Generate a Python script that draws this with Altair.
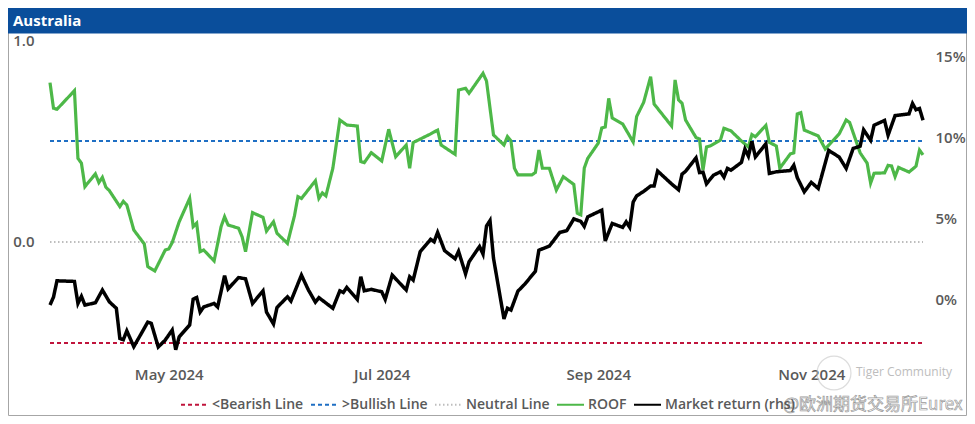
import altair as alt
import pandas as pd

# ---------------- data ----------------
roof_dates = [
    "2024-03-28", "2024-03-29", "2024-03-30", "2024-04-04", "2024-04-05", "2024-04-06", "2024-04-07",
    "2024-04-10", "2024-04-11", "2024-04-12", "2024-04-13", "2024-04-14", "2024-04-17", "2024-04-18",
    "2024-04-19", "2024-04-21", "2024-04-24", "2024-04-25", "2024-04-27", "2024-04-30", "2024-05-01",
    "2024-05-02", "2024-05-04", "2024-05-07", "2024-05-08", "2024-05-09", "2024-05-10", "2024-05-11",
    "2024-05-14", "2024-05-16", "2024-05-17", "2024-05-18", "2024-05-21", "2024-05-22", "2024-05-23",
    "2024-05-25", "2024-05-28", "2024-05-29", "2024-05-31", "2024-06-01", "2024-06-04", "2024-06-06",
    "2024-06-07", "2024-06-08", "2024-06-12", "2024-06-13", "2024-06-14", "2024-06-15", "2024-06-17",
    "2024-06-19", "2024-06-21", "2024-06-24", "2024-06-25", "2024-06-26", "2024-06-28", "2024-07-01",
    "2024-07-03", "2024-07-04", "2024-07-05", "2024-07-08", "2024-07-09", "2024-07-10", "2024-07-15",
    "2024-07-17", "2024-07-18", "2024-07-22", "2024-07-23", "2024-07-25", "2024-07-26", "2024-07-30",
    "2024-07-31", "2024-08-02", "2024-08-05", "2024-08-06", "2024-08-07", "2024-08-08", "2024-08-09",
    "2024-08-13", "2024-08-14", "2024-08-15", "2024-08-16", "2024-08-18", "2024-08-20", "2024-08-22",
    "2024-08-25", "2024-08-26", "2024-08-27", "2024-08-28", "2024-08-29", "2024-09-01", "2024-09-02",
    "2024-09-03", "2024-09-04", "2024-09-05", "2024-09-08", "2024-09-11", "2024-09-12", "2024-09-14",
    "2024-09-16", "2024-09-17", "2024-09-22", "2024-09-23", "2024-09-24", "2024-09-25", "2024-09-26",
    "2024-09-29", "2024-09-30", "2024-10-01", "2024-10-02", "2024-10-03", "2024-10-06", "2024-10-07",
    "2024-10-09", "2024-10-12", "2024-10-14", "2024-10-15", "2024-10-16", "2024-10-19", "2024-10-20",
    "2024-10-22", "2024-10-23", "2024-10-26", "2024-10-27", "2024-10-28", "2024-10-29", "2024-10-30",
    "2024-11-02", "2024-11-03", "2024-11-05", "2024-11-09", "2024-11-11", "2024-11-12", "2024-11-15",
    "2024-11-17", "2024-11-18", "2024-11-19", "2024-11-22", "2024-11-23", "2024-11-24", "2024-11-25",
    "2024-11-26", "2024-11-29", "2024-12-01", "2024-12-02", "2024-12-03",
]
roof_values = [
    0.789, 0.662, 0.657, 0.749, 0.414, 0.390, 0.274,
    0.337, 0.294, 0.320, 0.271, 0.254, 0.175, 0.201,
    0.183, 0.059, -0.010, -0.122, -0.144, -0.040, -0.035,
    -0.003, 0.100, 0.216, 0.076, 0.093, -0.048, -0.040,
    -0.094, 0.076, 0.125, 0.084, 0.068, 0.026, -0.048,
    0.145, 0.122, 0.054, 0.100, 0.043, -0.007, 0.129,
    0.224, 0.215, 0.303, 0.216, 0.243, 0.228, 0.365,
    0.604, 0.579, 0.574, 0.398, 0.393, 0.442, 0.401,
    0.558, 0.489, 0.422, 0.480, 0.365, 0.492, 0.535,
    0.554, 0.480, 0.434, 0.752, 0.761, 0.736, 0.835,
    0.797, 0.530, 0.480, 0.522, 0.500, 0.365, 0.332,
    0.332, 0.344, 0.455, 0.365, 0.365, 0.257, 0.323,
    0.285, 0.142, 0.134, 0.366, 0.414, 0.489, 0.564,
    0.569, 0.711, 0.614, 0.584, 0.495, 0.621, 0.691,
    0.818, 0.683, 0.574, 0.802, 0.703, 0.687, 0.604,
    0.517, 0.510, 0.356, 0.470, 0.475, 0.505, 0.563,
    0.550, 0.500, 0.470, 0.532, 0.521, 0.577, 0.493,
    0.475, 0.365, 0.436, 0.441, 0.634, 0.640, 0.554,
    0.532, 0.525, 0.460, 0.535, 0.604, 0.591, 0.441,
    0.390, 0.291, 0.340, 0.342, 0.379, 0.376, 0.323,
    0.369, 0.346, 0.375, 0.455, 0.431,
]

market_dates = [
    "2024-03-28", "2024-03-29", "2024-03-30", "2024-04-04", "2024-04-05", "2024-04-06", "2024-04-07",
    "2024-04-10", "2024-04-12", "2024-04-14", "2024-04-16", "2024-04-17", "2024-04-18", "2024-04-19",
    "2024-04-21", "2024-04-25", "2024-04-26", "2024-04-28", "2024-04-30", "2024-05-02", "2024-05-03",
    "2024-05-04", "2024-05-07", "2024-05-08", "2024-05-09", "2024-05-10", "2024-05-11", "2024-05-14",
    "2024-05-15", "2024-05-17", "2024-05-18", "2024-05-21", "2024-05-23", "2024-05-25", "2024-05-28",
    "2024-05-29", "2024-05-31", "2024-06-01", "2024-06-04", "2024-06-05", "2024-06-08", "2024-06-10",
    "2024-06-12", "2024-06-13", "2024-06-17", "2024-06-19", "2024-06-20", "2024-06-21", "2024-06-24",
    "2024-06-25", "2024-06-26", "2024-06-28", "2024-07-01", "2024-07-02", "2024-07-04", "2024-07-08",
    "2024-07-09", "2024-07-10", "2024-07-12", "2024-07-15", "2024-07-16", "2024-07-17", "2024-07-19",
    "2024-07-22", "2024-07-23", "2024-07-25", "2024-07-26", "2024-07-29", "2024-07-30", "2024-07-31",
    "2024-08-01", "2024-08-02", "2024-08-05", "2024-08-06", "2024-08-07", "2024-08-09", "2024-08-11",
    "2024-08-14", "2024-08-15", "2024-08-18", "2024-08-21", "2024-08-23", "2024-08-25", "2024-08-27",
    "2024-08-28", "2024-08-29", "2024-09-02", "2024-09-03", "2024-09-05", "2024-09-08", "2024-09-09",
    "2024-09-10", "2024-09-11", "2024-09-12", "2024-09-14", "2024-09-16", "2024-09-17", "2024-09-18",
    "2024-09-22", "2024-09-24", "2024-09-25", "2024-09-26", "2024-09-29", "2024-09-30", "2024-10-01",
    "2024-10-02", "2024-10-04", "2024-10-06", "2024-10-07", "2024-10-08", "2024-10-09", "2024-10-12",
    "2024-10-13", "2024-10-14", "2024-10-15", "2024-10-16", "2024-10-19", "2024-10-20", "2024-10-22",
    "2024-10-26", "2024-10-27", "2024-10-28", "2024-10-30", "2024-11-01", "2024-11-03", "2024-11-06",
    "2024-11-09", "2024-11-11", "2024-11-13", "2024-11-15", "2024-11-16", "2024-11-18", "2024-11-19",
    "2024-11-22", "2024-11-23", "2024-11-25", "2024-11-29", "2024-11-30", "2024-12-01", "2024-12-02",
    "2024-12-03",
]
market_values = [
    -0.37, 0.12, 1.13, 1.09, -0.27, 0.17, -0.37,
    -0.23, 0.56, -0.17, -0.57, -2.43, -2.51, -1.96,
    -2.94, -1.42, -1.50, -2.96, -2.53, -1.91, -3.13,
    -2.33, -1.60, 0.00, 0.10, -0.80, -0.49, -0.27,
    -0.49, 1.45, 0.63, 1.33, 1.25, -0.27, 0.51,
    -0.80, -1.54, -0.52, 0.14, -0.12, 1.48, 0.56,
    -0.19, 0.09, -0.57, 0.51, 0.41, 0.72, -0.02,
    1.38, 0.51, 0.60, 0.45, -0.02, 1.48, 0.56,
    1.38, 1.17, 2.92, 3.69, 3.54, 4.12, 2.99,
    2.49, 2.95, 1.56, 2.30, 3.25, 2.78, 4.51,
    4.85, 2.53, -1.22, -0.57, -0.68, 0.49, 0.93,
    1.72, 3.02, 3.27, 4.12, 4.23, 4.95, 4.80,
    4.49, 5.08, 5.49, 3.59, 4.67, 4.43, 4.77,
    4.43, 5.99, 6.37, 6.65, 6.98, 6.98, 7.91,
    7.11, 6.75, 7.72, 7.89, 8.72, 7.81, 7.84,
    7.12, 7.65, 7.86, 7.53, 8.07, 7.96, 8.44,
    9.26, 8.83, 9.74, 8.78, 9.59, 7.76, 7.86,
    7.94, 8.27, 7.50, 6.62, 7.21, 6.83, 9.18,
    8.77, 8.07, 9.30, 9.44, 10.45, 9.81, 10.74,
    11.03, 10.12, 11.33, 11.44, 12.08, 11.69, 11.77,
    11.05,
]

level_names = ["<Bearish Line", ">Bullish Line", "Neutral Line"]
level_values = [-0.5, 0.5, 0.0]

series_names = level_names + ["ROOF", "Market return (rhs)"]
series_colors = ["#C0143C", "#1F6FC4", "#BDBDBD", "#4DB848", "#000000"]
series_dashes = [[4, 3], [4, 3], [1.5, 2.5], [1, 0], [1, 0]]

left_ticks = [0.0, 1.0]
right_ticks = [0, 5, 10, 15]
month_ticks = [(2024, 5), (2024, 7), (2024, 9), (2024, 11)]

title_text = "Australia"
watermark_1 = "Tiger Community"
watermark_2 = "@欧洲期货交易所Eurex"

# ---------------- tables ----------------
roof_df = pd.DataFrame({"date": pd.to_datetime(roof_dates), "value": roof_values, "series": "ROOF"})
mkt_df = pd.DataFrame({"date": pd.to_datetime(market_dates), "value": market_values,
                       "series": "Market return (rhs)"})
start, end = roof_df["date"].min(), roof_df["date"].max()
lvl_rows = []
for n, v in zip(level_names, level_values):
    lvl_rows.append({"date": start, "value": v, "series": n})
    lvl_rows.append({"date": end, "value": v, "series": n})
lvl_df = pd.DataFrame(lvl_rows)

FONT = "Open Sans"
GREY = "#595959"

x_enc = alt.X(
    "date:T",
    scale=alt.Scale(domain=[alt.DateTime(year=2024, month=3, date=28),
                            alt.DateTime(year=2024, month=12, date=3)], nice=False),
    axis=alt.Axis(
        values=[alt.DateTime(year=y, month=m, date=1) for y, m in month_ticks],
        format="%b %Y", title=None, grid=False, domain=False, ticks=False,
        labelPadding=14, labelFontSize=15, labelFont=FONT, labelFontWeight=600,
        labelColor=GREY, labelFlush=False, labelOverlap=False,
    ),
)

legend = alt.Legend(
    orient="none", legendX=130, legendY=350, direction="horizontal", title=None,
    symbolType="stroke", symbolSize=729, symbolStrokeWidth=2,
    labelFontSize=14, labelFont=FONT, labelFontWeight=600, labelColor=GREY,
    labelOffset=3, columnPadding=3, padding=0, labelLimit=400,
)
color_enc = alt.Color("series:N", scale=alt.Scale(domain=series_names, range=series_colors),
                      legend=legend, sort=series_names)
dash_enc = alt.StrokeDash("series:N", scale=alt.Scale(domain=series_names, range=series_dashes),
                          legend=legend, sort=series_names)

y_left = alt.Y(
    "value:Q",
    scale=alt.Scale(domain=[-0.55, 1.0], nice=False, zero=False),
    axis=alt.Axis(values=left_ticks, format=".1f", title=None, grid=False, domain=False,
                  ticks=False, labelPadding=16, labelFontSize=15, labelFont=FONT,
                  labelFontWeight=600, labelColor=GREY, labelFlush=False),
)
y_right = alt.Y(
    "value:Q",
    scale=alt.Scale(domain=[-3.33, 16], nice=False, zero=False),
    axis=alt.Axis(values=right_ticks, labelExpr="datum.value + '%'", orient="right", title=None,
                  grid=False, domain=False, ticks=False, labelPadding=12, labelFontSize=15,
                  labelFont=FONT, labelFontWeight=600, labelColor=GREY, labelFlush=False),
)

levels = alt.Chart(lvl_df).mark_line(strokeWidth=2).encode(
    x=x_enc, y=y_left, color=color_enc, strokeDash=dash_enc, detail="series:N")
roof = alt.Chart(roof_df).mark_line(strokeWidth=3.2).encode(
    x=x_enc, y=y_left, color=color_enc, strokeDash=dash_enc)
left = alt.layer(levels, roof)

market = alt.Chart(mkt_df).mark_line(strokeWidth=3.5).encode(
    x=x_enc, y=y_right, color=color_enc, strokeDash=dash_enc)

# ---------------- decoration (frame, header, watermark) ----------------
deco_df = pd.DataFrame({"t": [title_text]})
frame = alt.Chart(deco_df).mark_rect(fill=None, stroke="#A6A6A6", strokeWidth=1).encode(
    x=alt.value(-41.5), x2=alt.value(916.5), y=alt.value(-31.5), y2=alt.value(375.5))
header = alt.Chart(deco_df).mark_rect(fill="#0A4E9B", stroke="#0A4E9B").encode(
    x=alt.value(-42), x2=alt.value(917), y=alt.value(-32), y2=alt.value(-7))
header_text = alt.Chart(deco_df).mark_text(
    align="left", baseline="middle", font=FONT, fontSize=15, fontWeight="bold", color="white"
).encode(x=alt.value(-37), y=alt.value(-19), text="t:N")

wm1_df = pd.DataFrame({"t": [watermark_1]})
wm2_df = pd.DataFrame({"t": [watermark_2]})
wm_logo = alt.Chart(wm1_df).mark_point(shape="circle", filled=False, color="#CFCFCF",
                                       strokeWidth=1.2, size=1150).encode(
    x=alt.value(784), y=alt.value(333))
wm_text1 = alt.Chart(wm1_df).mark_text(
    align="left", baseline="middle", font=FONT, fontSize=12, color="#BDBDBD"
).encode(x=alt.value(806), y=alt.value(332), text="t:N")
wm_text2 = alt.Chart(wm2_df).mark_text(
    align="left", baseline="middle", font="Noto Sans CJK SC", fontSize=17, fill="#FFFFFF",
    stroke="#9A9A9A", strokeWidth=0.7
).encode(x=alt.value(733), y=alt.value(365), text="t:N")

chart = alt.layer(
    frame, header, header_text, left, market, wm_logo, wm_text1, wm_text2
).resolve_scale(y="independent").properties(
    width=873, height=313,
    padding={"left": 42, "top": 32, "right": 44, "bottom": 63},
    autosize=alt.AutoSizeParams(type="none"),
    background="white",
).configure_view(stroke=None)

chart.save("out.html", embed_options={"renderer": "svg", "actions": False})
